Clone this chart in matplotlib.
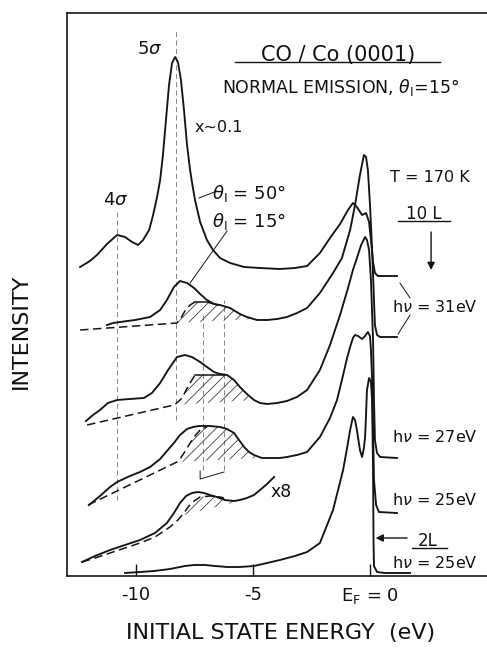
import matplotlib
matplotlib.use('Agg')
import matplotlib.pyplot as plt
import numpy as np

plt.rcParams['font.family'] = ['DejaVu Sans']
plt.rcParams['mathtext.fontset'] = 'dejavusans'
plt.rcParams['hatch.linewidth'] = 0.6
plt.rcParams['hatch.color'] = '0.25'

# ---------------- data (energy in eV, intensity in arb. units incl. display offset) -------------
# theta_I = 50 deg, hv = 31 eV (5sigma region x~0.1)
e_top = [-12.39, -11.97, -11.67, -11.24, -10.81, -10.47, -10.17, -9.91, -9.70, -9.44, -9.27, -9.10,
         -8.97, -8.85, -8.72, -8.59, -8.46, -8.33, -8.21, -8.08, -7.95, -7.82, -7.69, -7.61, -7.48,
         -7.26, -6.97, -6.71, -6.41, -5.98, -5.38, -4.70, -3.85, -3.21, -2.69, -2.14, -1.71, -1.28,
         -0.94, -0.73, -0.56, -0.34, -0.17, -0.04, 0.04, 0.13, 0.21, 0.34, 1.15]
i_top = [309, 315, 321, 332, 341, 339, 334, 331, 336, 346, 361, 379,
         396, 421, 456, 491, 513, 519, 514, 496, 466, 431, 406, 394, 376,
         354, 336, 326, 318, 313, 309, 308, 307, 308, 310, 323, 338, 352,
         366, 373, 369, 361, 363, 354, 336, 314, 303, 300, 300]

# theta_I = 15 deg, hv = 31 eV
e_31 = [-11.24, -10.98, -10.68, -10.04, -9.40, -8.97, -8.68, -8.38, -8.12, -7.82, -7.52, -7.26,
        -6.97, -6.67, -6.41, -5.98, -5.56, -5.26, -4.83, -4.40, -3.97, -3.55, -3.12, -2.69, -2.14,
        -1.58, -1.20, -0.85, -0.64, -0.43, -0.26, -0.17, -0.09, 0.00, 0.09, 0.17, 0.21, 0.30, 0.43, 1.15]
i_31 = [251, 253, 254, 256, 259, 266, 276, 289, 295, 293, 288, 282,
        276, 272, 271, 268, 262, 259, 256, 256, 257, 259, 263, 268, 283,
        303, 318, 346, 371, 401, 421, 419, 406, 371, 326, 276, 251, 241, 239, 239]
e_31_bg = [-12.39, -8.25, -8.08, -7.91, -7.69, -7.48]
i_31_bg = [246, 253, 258, 265, 271, 274]
e_31_top = [-7.48, -6.97, -6.50]
i_31_top = [274, 274, 271]
e_31_base = [-8.25, -5.04]
i_31_base = [253, 257]

# hv = 27 eV
e_27 = [-12.14, -11.84, -11.54, -11.20, -10.81, -10.26, -9.66, -9.32, -8.97, -8.63, -8.25, -7.91,
        -7.61, -7.26, -6.97, -6.67, -6.41, -6.11, -5.81, -5.56, -5.26, -4.96, -4.70, -4.40, -3.97,
        -3.55, -3.12, -2.69, -2.14, -1.71, -1.28, -0.94, -0.73, -0.56, -0.38, -0.21, -0.13, -0.04,
        0.04, 0.13, 0.17, 0.21, 0.30, 0.43, 1.15]
i_27 = [155, 161, 166, 173, 176, 177, 178, 183, 193, 206, 219, 221,
        219, 214, 209, 204, 202, 201, 196, 189, 182, 176, 173, 172, 173,
        175, 179, 186, 206, 231, 261, 288, 306, 318, 331, 339, 336, 326,
        296, 236, 176, 136, 123, 119, 118]
e_27_bg = [-12.09, -8.38, -8.21, -8.03, -7.86, -7.69, -7.48]
i_27_bg = [151, 171, 174, 178, 186, 193, 201]
e_27_top = [-7.48, -6.84, -6.24]
i_27_top = [201, 201, 201]
e_27_base = [-8.38, -4.96]
i_27_base = [171, 176]

# hv = 25 eV, 10 L
e_25 = [-12.01, -11.54, -11.11, -10.81, -10.26, -9.83, -9.40, -8.97, -8.68, -8.38, -8.12, -7.82,
        -7.56, -7.31, -6.84, -6.41, -6.11, -5.81, -5.60, -5.38, -5.17, -4.96, -4.62, -4.27, -3.85,
        -3.55, -3.12, -2.69, -2.14, -1.71, -1.41, -1.20, -0.98, -0.85, -0.73, -0.64, -0.51, -0.34,
        -0.21, -0.09, 0.00, 0.04, 0.09, 0.13, 0.17, 0.26, 0.38, 1.15]
i_25 = [71, 80, 89, 94, 100, 104, 109, 117, 125, 133, 141, 147,
        149, 150, 150, 149, 147, 143, 136, 129, 124, 121, 118, 118, 118,
        119, 121, 124, 139, 158, 176, 196, 218, 229, 238, 241, 240, 237,
        240, 244, 240, 226, 196, 146, 96, 71, 64, 63]
e_25_bg = [-12.05, -8.25, -8.12, -7.95, -7.74, -7.52, -7.26, -6.97]
i_25_bg = [71, 114, 117, 123, 131, 139, 146, 149]
e_25_base = [-8.25, -4.92]
i_25_base = [114, 118]

# 2 L, hv = 25 eV, x8
e_x8 = [-12.31, -11.75, -11.11, -10.47, -9.83, -9.19, -8.68, -8.38, -8.12, -7.86, -7.61, -7.35,
        -7.09, -6.84, -6.54, -6.20, -5.81, -5.56, -5.26, -4.96, -4.70, -4.40, -4.10]
i_x8 = [14, 20, 26, 31, 36, 43, 53, 63, 73, 80, 83, 84,
        83, 81, 79, 76, 75, 76, 78, 81, 86, 92, 99]
e_x8_bg = [-12.31, -11.75, -11.11, -10.47, -9.83, -9.19, -8.55, -8.21, -7.95, -7.74, -7.52, -7.26,
           -6.84, -6.41, -6.24]
i_x8_bg = [14, 18, 23, 28, 33, 39, 49, 56, 63, 70, 75, 79, 80, 79, 78]
e_x8_base = [-7.95, -5.73]
i_x8_base = [61, 74]

# 2 L, hv = 25 eV, unscaled
e_2l = [-10.47, -9.83, -9.23, -8.55, -7.91, -7.52, -7.05, -6.62, -6.11, -5.56, -4.96, -4.40,
        -3.85, -3.21, -2.69, -2.14, -1.58, -1.15, -0.98, -0.85, -0.73, -0.64, -0.56, -0.43,
        -0.34, -0.26, -0.21, -0.17, -0.13, -0.04, 0.04, 0.09, 0.13, 0.15, 0.17, 0.30, 0.64, 1.71]
i_2l = [3, 4, 5, 7, 10, 11, 11, 10, 9, 9, 10, 13,
        16, 20, 24, 33, 66, 106, 128, 146, 159, 156, 146, 126,
        119, 128, 139, 161, 186, 198, 194, 176, 106, 36, 10, 4, 3, 3]

# reference lines (energies of 4sigma, 5sigma and substrate-derived features)
ref_e = [-10.81, -8.29, -7.14, -6.24]
ref_lo = [76, 156, 106, 106]
ref_hi = [364, 546, 264, 276]

tick_pos = [-10, -5, 0]
tick_lab = ['-10', '-5', r'E$_\mathrm{F}$ = 0']

# ---------------- plotting -------------
fig = plt.figure(figsize=(4.87, 6.52), dpi=100)
ax = fig.add_axes([67/487, 76/652, 420/487, 563/652])
ax.set_xlim(-12.95, 5.0)
ax.set_ylim(0, 563)

LC = '#141414'
LW = 1.35
DASH = (0, (5.5, 3))

for x, lo, hi in zip(ref_e, ref_lo, ref_hi):
    ax.plot([x, x], [lo, hi], color='0.45', lw=0.6, ls=(0, (6, 4)), zorder=1)

for e, i in [(e_top, i_top), (e_31, i_31), (e_27, i_27), (e_25, i_25), (e_x8, i_x8), (e_2l, i_2l)]:
    ax.plot(e, i, color=LC, lw=LW, solid_joinstyle='round', zorder=3)

# backgrounds (dashed) and highlighted components (hatched)
ax.plot(e_31_bg, i_31_bg, color=LC, lw=1.1, ls=DASH, zorder=3)
ax.plot(e_31_top, i_31_top, color=LC, lw=1.1, zorder=3)
ax.plot(e_27_bg, i_27_bg, color=LC, lw=1.1, ls=DASH, zorder=3)
ax.plot(e_27_top, i_27_top, color=LC, lw=1.1, zorder=3)
ax.plot(e_25_bg, i_25_bg, color=LC, lw=1.1, ls=DASH, zorder=3)
ax.plot(e_x8_bg, i_x8_bg, color=LC, lw=1.1, ls=DASH, zorder=3)


def hatch(comp_e, comp_i, spec_e, spec_i, base_e, base_i, start):
    comp_e = list(comp_e); comp_i = list(comp_i)
    se = np.array(spec_e); si = np.array(spec_i)
    m = (se > comp_e[-1]) & (se <= base_e[-1])
    te = np.concatenate([comp_e, se[m], [base_e[-1]]])
    ti = np.concatenate([comp_i, si[m], [np.interp(base_e[-1], se, si)]])
    xs = np.linspace(start, base_e[-1], 200)
    top = np.interp(xs, te, ti)
    bot = np.interp(xs, base_e, base_i)
    top = np.maximum(top, bot)
    ax.fill_between(xs, bot, top, facecolor='none', edgecolor='0.25', hatch='///', linewidth=0, zorder=2)


hatch(e_31_bg + e_31_top[1:], i_31_bg + i_31_top[1:], e_31, i_31, e_31_base, i_31_base, -8.25)
hatch(e_27_bg + e_27_top[1:], i_27_bg + i_27_top[1:], e_27, i_27, e_27_base, i_27_base, -8.38)
hatch(e_25_bg, i_25_bg, e_25, i_25, e_25_base, i_25_base, -8.25)
hatch(e_x8_bg, i_x8_bg, e_x8, i_x8, e_x8_base, i_x8_base, -7.95)

# annotation lines
thin = dict(color=LC, lw=0.7, zorder=3)
ax.plot([-7.31, -6.54], [378, 385], **thin)
ax.plot([-6.11, -7.69], [345, 293], **thin)
ax.plot([1.28, 1.71], [293, 278], **thin)
ax.plot([1.71, 1.20], [261, 242], **thin)
ax.plot([-7.26, -7.26, -6.24], [105, 97, 104], **thin)
ax.plot([-5.77, 2.99], [514, 514], color=LC, lw=1.0)
ax.plot([1.20, 3.42], [355, 355], color=LC, lw=1.0)
ax.plot([1.79, 3.29], [28, 28], color=LC, lw=1.0)
ax.annotate('', xy=(2.61, 306), xytext=(2.61, 344),
            arrowprops=dict(arrowstyle='-|>', lw=1.0, color=LC, mutation_scale=11, shrinkA=0, shrinkB=0))
ax.annotate('', xy=(0.24, 38), xytext=(1.58, 38),
            arrowprops=dict(arrowstyle='-|>', lw=1.0, color=LC, mutation_scale=11, shrinkA=0, shrinkB=0))

TC = '#111111'
def t(x, y, s, fs, **kw):
    ax.text(x, y, s, fontsize=fs, color=TC, ha='center', va='center', **kw)

t(-9.40, 527, r'5$\sigma$', 13)
t(-10.85, 376, r'4$\sigma$', 13)
t(-6.45, 449, 'x~0.1', 11.5)
t(-5.15, 383, r'$\theta_\mathrm{I}$ = 50°', 13)
t(-5.15, 355, r'$\theta_\mathrm{I}$ = 15°', 13)
t(-1.37, 521, 'CO / Co (0001)', 15)
t(-1.24, 489, r'NORMAL EMISSION, $\theta_\mathrm{I}$=15°', 12.5)
t(2.56, 398, 'T = 170 K', 11.5)
t(2.30, 362, '10 L', 12)
t(2.78, 269, r'h$\nu$ = 31eV', 11.5)
t(2.78, 139, r'h$\nu$ = 27eV', 11.5)
t(2.78, 76, r'h$\nu$ = 25eV', 11.5)
t(2.45, 35, '2L', 12)
t(2.78, 13, r'h$\nu$ = 25eV', 11.5)
t(-3.80, 84, 'x8', 12.5)

ax.set_xticks(tick_pos)
ax.set_xticklabels(tick_lab)
ax.set_yticks([])
ax.tick_params(axis='x', direction='in', length=9, width=1.0, labelsize=13, pad=7, colors=TC)
for s in ['left', 'top', 'bottom']:
    ax.spines[s].set_linewidth(1.2)
    ax.spines[s].set_color(LC)
ax.spines['right'].set_visible(False)

fig.text(281/487, 1 - 633/652, 'INITIAL STATE ENERGY  (eV)', fontsize=16, color=TC, ha='center', va='center')
fig.text(21/487, 1 - 331/652, 'INTENSITY', fontsize=16, color=TC, ha='center', va='center', rotation=90)

fig.savefig('out.png', dpi=100, facecolor='white')
